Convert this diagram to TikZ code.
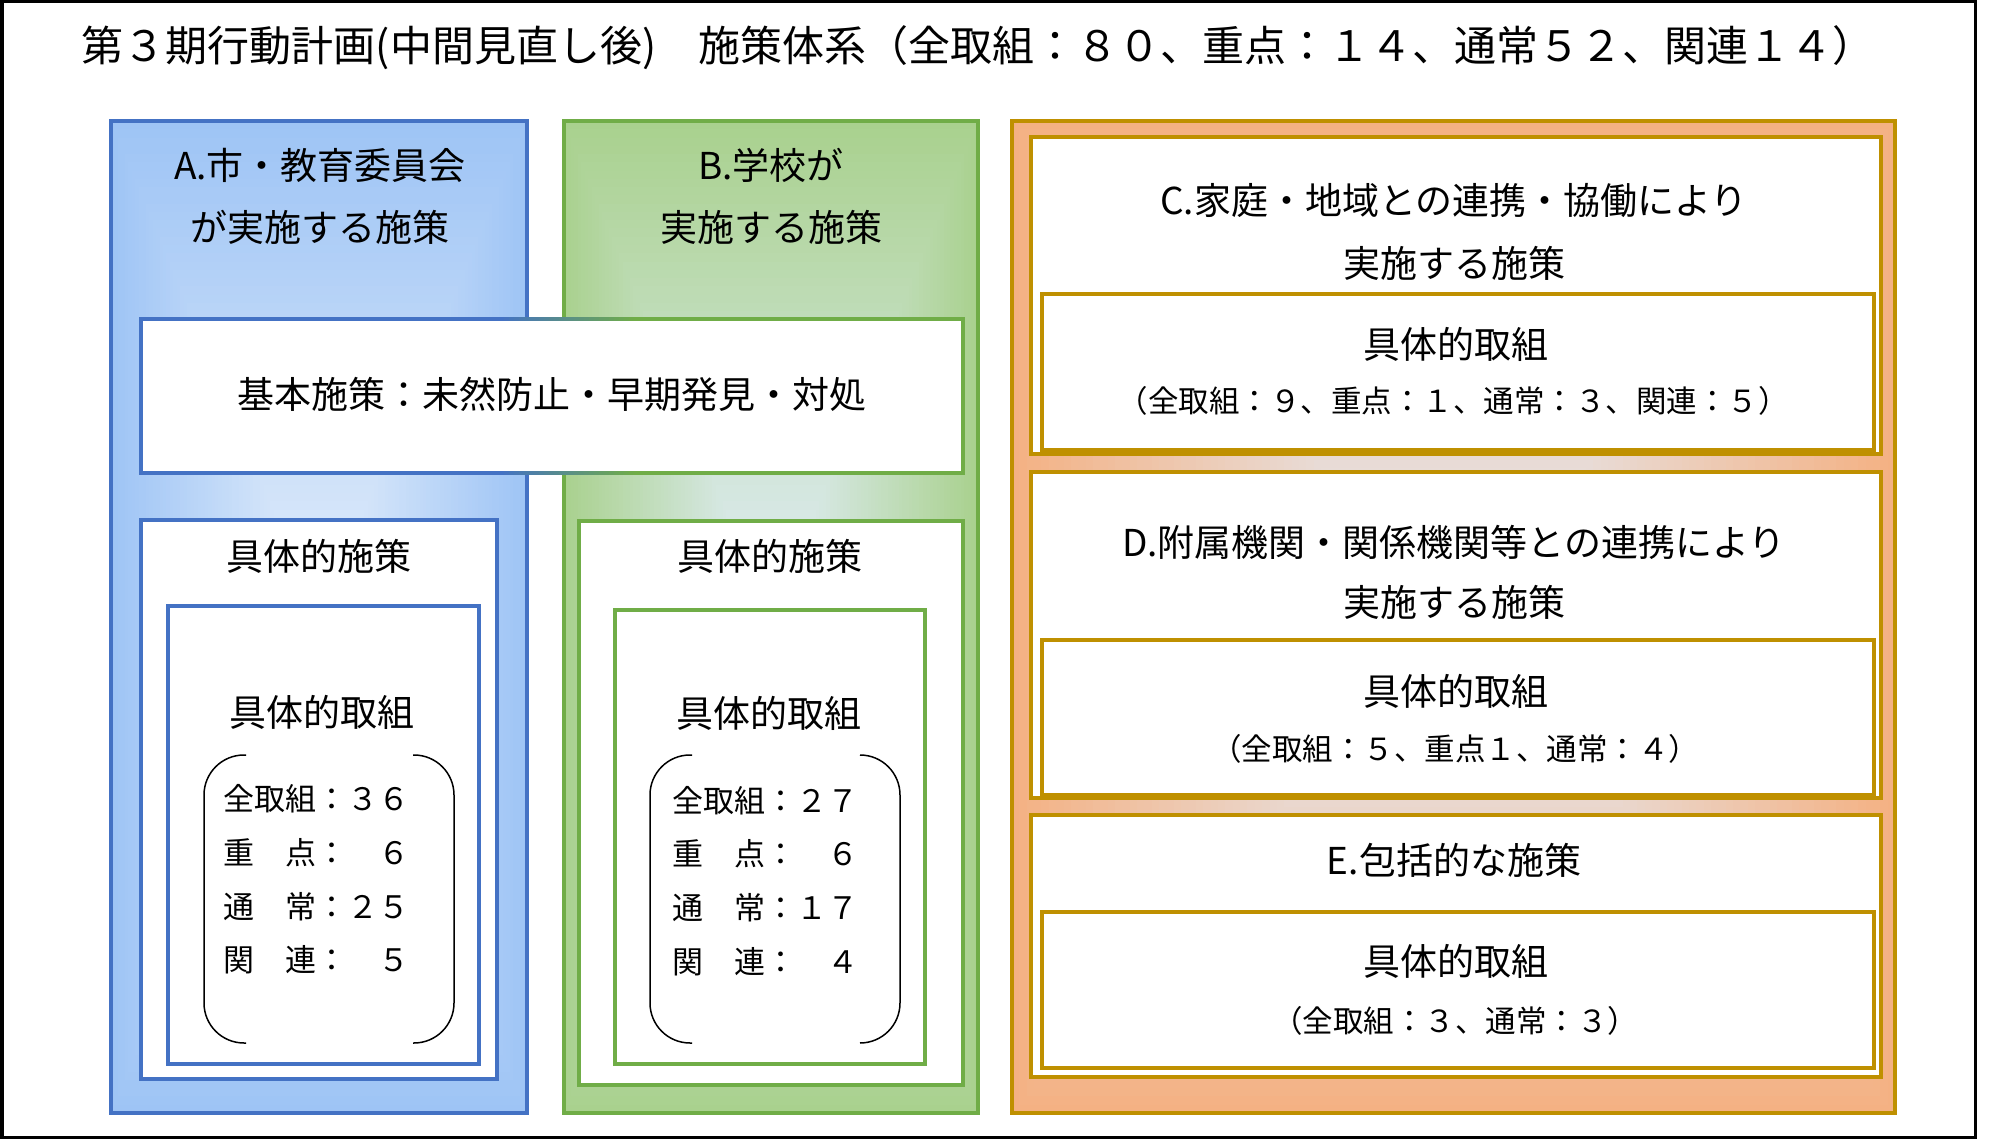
\documentclass[tikz,border=0pt]{standalone}
\usepackage{fontspec}
\setmainfont{Noto Sans CJK JP}
\definecolor{Ablue}{HTML}{4472C4}
\definecolor{Afill}{HTML}{9EC4F5}
\definecolor{Bgreen}{HTML}{70AD47}
\definecolor{Bfill}{HTML}{A9D18E}
\definecolor{Ofill}{HTML}{F4B183}
\definecolor{Ogold}{HTML}{BF9000}
\definecolor{Cen}{HTML}{E3EEFB}
\newcommand{\rectgrad}[6]{%
  \foreach \i in {0,...,59}{%
    \pgfmathsetmacro\s{1-\i/60}%
    \pgfmathtruncatemacro\p{100-\i*100/60}%
    \fill[#5!\p!#6] ({#1-#3*\s},{#2-#4*\s}) rectangle ({#1+#3*\s},{#2+#4*\s});
  }}
\begin{document}
\begin{tikzpicture}[x=1pt,y=-1pt,
  box/.style={inner sep=0pt, outer sep=0pt, line width=4pt},
  wbox/.style={box, fill=white},
  big/.style={font=\fontsize{37}{62}\selectfont, align=center, inner sep=0pt},
  small/.style={font=\fontsize{30.5}{40}\selectfont, inner sep=0pt},
  list/.style={font=\fontsize{31}{53.7}\selectfont, align=left, inner sep=0pt},
  bracket/.style={line width=1.5pt, rounded corners=40pt}]

\useasboundingbox (0,0) rectangle (2000,1139);
\fill[white] (0,0) rectangle (2000,1139);

% title
\node[font=\fontsize{42}{50}\selectfont, inner sep=0pt] (title) at (978,48)
  {第３期行動計画(中間見直し後)　施策体系（全取組：８０、重点：１４、通常５２、関連１４）};

% ---------- column A ----------
\rectgrad{319}{617}{208}{496}{Afill}{Cen}
\node[box, draw=Ablue, minimum width=416pt, minimum height=992pt] (boxA) at (319,617) {};
\node[big] (titA) at (320,196) {A.市・教育委員会\\が実施する施策};

% ---------- column B ----------
\rectgrad{771}{617}{207}{496}{Bfill}{Cen}
\node[box, draw=Bgreen, minimum width=414pt, minimum height=992pt] (boxB) at (771,617) {};
\node[big] (titB) at (771,196) {B.学校が\\実施する施策};

% ---------- basic box ----------
\node[wbox, minimum width=822pt, minimum height=154pt] (basic) at (552,396) {};
\draw[Ablue, line width=4pt] (500,319) -| (141,473) -- (500,473);
\draw[Bgreen, line width=4pt] (640,319) -| (963,473) -- (640,473);
\foreach \k in {0,...,27}{%
  \pgfmathtruncatemacro\q{100-\k*100/27}%
  \draw[Ablue!\q!Bgreen, line width=4pt] ({499+5*\k},319) -- ({506+5*\k},319);
  \draw[Ablue!\q!Bgreen, line width=4pt] ({499+5*\k},473) -- ({506+5*\k},473);
}
\node[big] (basicT) at (552,394) {基本施策：未然防止・早期発見・対処};

% ---------- A specific ----------
\node[wbox, draw=Ablue, minimum width=356pt, minimum height=559pt] (specA) at (319,799.5) {};
\node[big] (specAT) at (319,556) {具体的施策};
\node[wbox, draw=Ablue, minimum width=311pt, minimum height=458pt] (innA) at (323.5,835) {};
\node[big] (innAT) at (322,712) {具体的取組};
\draw[bracket] (246,755) -- (204,755) -- (204,1043) -- (246,1043);
\draw[bracket] (413,755) -- (454,755) -- (454,1043) -- (413,1043);
\node[list] (listA) at (316,879.5) {全取組：３６\\重　点：　６\\通　常：２５\\関　連：　５};

% ---------- B specific ----------
\node[wbox, draw=Bgreen, minimum width=384pt, minimum height=564pt] (specB) at (771,803) {};
\node[big] (specBT) at (770,556) {具体的施策};
\node[wbox, draw=Bgreen, minimum width=310pt, minimum height=454pt] (innB) at (770,837) {};
\node[big] (innBT) at (769,713) {具体的取組};
\draw[bracket] (692,755) -- (650,755) -- (650,1043) -- (692,1043);
\draw[bracket] (860,755) -- (900,755) -- (900,1043) -- (860,1043);
\node[list] (listB) at (765.5,881) {全取組：２７\\重　点：　６\\通　常：１７\\関　連：　４};

% ---------- right column ----------
\rectgrad{1453.5}{617}{441.5}{496}{Ofill}{Cen}
\node[box, draw=Ogold, minimum width=883pt, minimum height=992pt] (boxO) at (1453.5,617) {};

% C
\node[wbox, draw=Ogold, minimum width=850pt, minimum height=317pt] (boxC) at (1456,295.5) {};
\node[big, font=\fontsize{37}{63.5}\selectfont] (titC) at (1454,232) {C.家庭・地域との連携・協働により\\実施する施策};
\node[wbox, draw=Ogold, minimum width=832pt, minimum height=156pt] (innC) at (1458,372) {};
\node[big] (innCT) at (1456,344) {具体的取組};
\node[small] (innCS) at (1453,401) {（全取組：９、重点：１、通常：３、関連：５）};

% D
\node[wbox, draw=Ogold, minimum width=850pt, minimum height=326pt] (boxD) at (1456,635) {};
\node[big, font=\fontsize{37}{60}\selectfont] (titD) at (1454,572) {D.附属機関・関係機関等との連携により\\実施する施策};
\node[wbox, draw=Ogold, minimum width=832pt, minimum height=155pt] (innD) at (1458,717.5) {};
\node[big] (innDT) at (1456,691) {具体的取組};
\node[small] (innDS) at (1455,748.5) {（全取組：５、重点１、通常：４）};

% E
\node[wbox, draw=Ogold, minimum width=850pt, minimum height=262pt] (boxE) at (1456,946) {};
\node[big] (titE) at (1454,860.5) {E.包括的な施策};
\node[wbox, draw=Ogold, minimum width=832pt, minimum height=156pt] (innE) at (1458,990) {};
\node[big] (innET) at (1456,961) {具体的取組};
\node[small] (innES) at (1455,1021) {（全取組：３、通常：３）};

% outer frame
\draw[black, line width=3.5pt] (1.75,1.75) rectangle (1975.5,1137.25);
\end{tikzpicture}
\end{document}
